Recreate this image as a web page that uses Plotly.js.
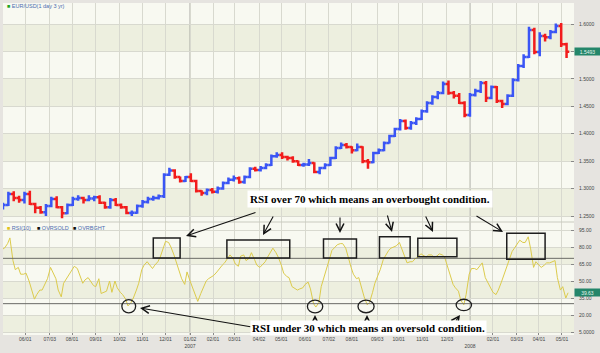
<!DOCTYPE html>
<html><head><meta charset="utf-8">
<script src="https://cdn.plot.ly/plotly-3.0.1.min.js"></script>
<style>html,body{margin:0;padding:0;background:#e6e4e0;}#chart{width:600px;height:353px;}</style>
</head><body><div id="chart"></div>
<script>
// ---- weekly EUR/USD bars (week centre dates) ----
const weekDates = ['2006-05-03','2006-05-10','2006-05-17','2006-05-24','2006-05-31','2006-06-07','2006-06-14','2006-06-21','2006-06-28','2006-07-05',
'2006-07-12','2006-07-19','2006-07-26','2006-08-02','2006-08-09','2006-08-16','2006-08-23','2006-08-30','2006-09-06','2006-09-13',
'2006-09-20','2006-09-27','2006-10-04','2006-10-11','2006-10-18','2006-10-25','2006-11-01','2006-11-08','2006-11-15','2006-11-22',
'2006-11-29','2006-12-06','2006-12-13','2006-12-20','2006-12-27','2007-01-03','2007-01-10','2007-01-17','2007-01-24','2007-01-31',
'2007-02-07','2007-02-14','2007-02-21','2007-02-28','2007-03-07','2007-03-14','2007-03-21','2007-03-28','2007-04-04','2007-04-11',
'2007-04-18','2007-04-25','2007-05-02','2007-05-09','2007-05-16','2007-05-23','2007-05-30','2007-06-06','2007-06-13','2007-06-20',
'2007-06-27','2007-07-04','2007-07-11','2007-07-18','2007-07-25','2007-08-01','2007-08-08','2007-08-15','2007-08-22','2007-08-29',
'2007-09-05','2007-09-12','2007-09-19','2007-09-26','2007-10-03','2007-10-10','2007-10-17','2007-10-24','2007-10-31','2007-11-07',
'2007-11-14','2007-11-21','2007-11-28','2007-12-05','2007-12-12','2007-12-19','2007-12-26','2008-01-02','2008-01-09','2008-01-16',
'2008-01-23','2008-01-30','2008-02-06','2008-02-13','2008-02-20','2008-02-27','2008-03-05','2008-03-12','2008-03-19','2008-03-26',
'2008-04-02','2008-04-09','2008-04-16','2008-04-23','2008-04-30','2008-05-07'];
const priceOpen = [1.265,1.270,1.290,1.283,1.279,1.290,1.272,1.265,1.257,1.268,
1.281,1.266,1.255,1.270,1.281,1.283,1.279,1.282,1.284,1.274,
1.266,1.279,1.270,1.266,1.2555,1.256,1.268,1.2755,1.281,1.283,
1.286,1.325,1.333,1.321,1.314,1.321,1.314,1.2956,1.292,1.2974,
1.294,1.300,1.310,1.316,1.319,1.312,1.321,1.336,1.334,1.3375,
1.343,1.359,1.361,1.3576,1.3557,1.350,1.343,1.344,1.3466,1.330,
1.3375,1.343,1.3557,1.374,1.3794,1.376,1.370,1.376,1.350,1.348,
1.365,1.370,1.383,1.396,1.4085,1.423,1.4104,1.4195,1.427,1.441,
1.456,1.467,1.474,1.4905,1.474,1.469,1.456,1.434,1.4705,1.478,
1.4925,1.465,1.485,1.4597,1.454,1.469,1.498,1.5235,1.540,1.589,
1.549,1.578,1.576,1.5855,1.5965,1.563];
const priceHigh = [1.274,1.294,1.295,1.287,1.294,1.296,1.274,1.268,1.272,1.285,
1.286,1.268,1.273,1.285,1.288,1.285,1.288,1.287,1.288,1.276,
1.283,1.283,1.273,1.268,1.260,1.271,1.279,1.285,1.287,1.289,
1.328,1.338,1.335,1.322,1.323,1.328,1.316,1.297,1.300,1.301,
1.304,1.313,1.320,1.324,1.322,1.324,1.339,1.340,1.341,1.346,
1.362,1.366,1.366,1.360,1.359,1.351,1.347,1.354,1.348,1.340,
1.346,1.358,1.377,1.384,1.383,1.377,1.382,1.377,1.354,1.367,
1.373,1.386,1.398,1.411,1.427,1.426,1.423,1.430,1.444,1.459,
1.470,1.478,1.495,1.497,1.478,1.474,1.459,1.474,1.482,1.496,
1.496,1.488,1.487,1.462,1.472,1.501,1.527,1.545,1.595,1.593,
1.585,1.582,1.589,1.601,1.602,1.566];
const priceLow = [1.262,1.268,1.277,1.274,1.273,1.270,1.255,1.254,1.250,1.266,
1.264,1.246,1.253,1.268,1.278,1.273,1.277,1.277,1.272,1.263,
1.263,1.268,1.263,1.253,1.250,1.254,1.265,1.273,1.278,1.280,
1.283,1.323,1.318,1.311,1.312,1.312,1.293,1.287,1.288,1.291,
1.291,1.298,1.308,1.313,1.309,1.309,1.319,1.331,1.331,1.335,
1.341,1.356,1.354,1.351,1.347,1.341,1.340,1.341,1.328,1.326,
1.335,1.341,1.354,1.372,1.373,1.364,1.368,1.346,1.336,1.346,
1.363,1.368,1.382,1.394,1.406,1.407,1.407,1.416,1.425,1.438,
1.453,1.463,1.472,1.471,1.464,1.454,1.430,1.431,1.468,1.474,
1.458,1.463,1.456,1.447,1.452,1.467,1.495,1.520,1.538,1.545,
1.541,1.568,1.572,1.583,1.558,1.538];
const priceClose = [1.270,1.290,1.283,1.279,1.290,1.272,1.265,1.257,1.268,1.281,
1.266,1.255,1.270,1.281,1.283,1.279,1.282,1.284,1.274,1.266,
1.279,1.270,1.266,1.2555,1.256,1.268,1.2755,1.281,1.283,1.286,
1.325,1.333,1.321,1.314,1.321,1.314,1.2956,1.292,1.2974,1.294,
1.300,1.310,1.316,1.319,1.312,1.321,1.336,1.334,1.3375,1.343,
1.359,1.361,1.3576,1.3557,1.350,1.343,1.344,1.3466,1.330,1.3375,
1.343,1.3557,1.374,1.3794,1.376,1.370,1.376,1.350,1.348,1.365,
1.370,1.383,1.396,1.4085,1.423,1.4104,1.4195,1.427,1.441,1.456,
1.467,1.474,1.4905,1.474,1.469,1.456,1.434,1.4705,1.478,1.4925,
1.465,1.485,1.4597,1.454,1.469,1.498,1.5235,1.540,1.589,1.549,
1.578,1.576,1.5855,1.5965,1.563,1.5493];

// ---- RSI(10) ----
const rsiDates = ['2006-05-02','2006-05-05','2006-05-09','2006-05-12','2006-05-16','2006-05-19','2006-05-23','2006-05-26','2006-05-30','2006-06-02',
'2006-06-06','2006-06-09','2006-06-13','2006-06-16','2006-06-20','2006-06-23','2006-06-27','2006-06-30','2006-07-04','2006-07-07',
'2006-07-11','2006-07-14','2006-07-18','2006-07-21','2006-07-25','2006-07-28','2006-08-01','2006-08-04','2006-08-08','2006-08-11',
'2006-08-15','2006-08-18','2006-08-22','2006-08-25','2006-08-29','2006-09-01','2006-09-05','2006-09-08','2006-09-12','2006-09-15',
'2006-09-19','2006-09-22','2006-09-26','2006-09-29','2006-10-03','2006-10-06','2006-10-10','2006-10-13','2006-10-17','2006-10-20',
'2006-10-24','2006-10-27','2006-10-31','2006-11-03','2006-11-07','2006-11-10','2006-11-14','2006-11-17','2006-11-21','2006-11-24',
'2006-11-28','2006-12-01','2006-12-05','2006-12-08','2006-12-12','2006-12-15','2006-12-19','2006-12-22','2006-12-26','2006-12-29',
'2007-01-02','2007-01-05','2007-01-09','2007-01-12','2007-01-16','2007-01-19','2007-01-23','2007-01-26','2007-01-30','2007-02-02',
'2007-02-06','2007-02-09','2007-02-13','2007-02-16','2007-02-20','2007-02-23','2007-02-27','2007-03-02','2007-03-06','2007-03-09',
'2007-03-13','2007-03-16','2007-03-20','2007-03-23','2007-03-27','2007-03-30','2007-04-03','2007-04-06','2007-04-10','2007-04-13',
'2007-04-17','2007-04-20','2007-04-24','2007-04-27','2007-05-01','2007-05-04','2007-05-08','2007-05-11','2007-05-15','2007-05-18',
'2007-05-22','2007-05-25','2007-05-29','2007-06-01','2007-06-05','2007-06-08','2007-06-12','2007-06-15','2007-06-19','2007-06-22',
'2007-06-26','2007-06-29','2007-07-03','2007-07-06','2007-07-10','2007-07-13','2007-07-17','2007-07-20','2007-07-24','2007-07-27',
'2007-07-31','2007-08-03','2007-08-07','2007-08-10','2007-08-14','2007-08-17','2007-08-21','2007-08-24','2007-08-28','2007-08-31',
'2007-09-04','2007-09-07','2007-09-11','2007-09-14','2007-09-18','2007-09-21','2007-09-25','2007-09-28','2007-10-02','2007-10-05',
'2007-10-09','2007-10-12','2007-10-16','2007-10-19','2007-10-23','2007-10-26','2007-10-30','2007-11-02','2007-11-06','2007-11-09',
'2007-11-13','2007-11-16','2007-11-20','2007-11-23','2007-11-27','2007-11-30','2007-12-04','2007-12-07','2007-12-11','2007-12-14',
'2007-12-18','2007-12-21','2007-12-25','2007-12-28',
'2008-01-01','2008-01-04','2008-01-08','2008-01-11','2008-01-15','2008-01-18','2008-01-22','2008-01-25','2008-01-29','2008-02-01',
'2008-02-05','2008-02-08','2008-02-12','2008-02-15','2008-02-19','2008-02-22','2008-02-26','2008-02-29','2008-03-04','2008-03-07',
'2008-03-11','2008-03-14','2008-03-18','2008-03-21','2008-03-25','2008-03-28','2008-04-01','2008-04-04','2008-04-08','2008-04-11',
'2008-04-15','2008-04-18','2008-04-22','2008-04-25','2008-04-29','2008-05-02','2008-05-06','2008-05-09'];
const rsiValues = [78,79,83,88,68,60,62,56,56,57,
50,42,34,38,42,42,48,52,62,58,
52,42,36,48,52,56,60,63,61,56,
48,51,53,50,46,45,52,39,40,41,
50,40,50,44,40,38,34,28,31,35,
42,48,60,64,67,64,61,64,67,71,
80,85,84,80,73,66,57,52,47,58,
50,45,37,32,39,44,50,52,54,55,
58,61,64,66,70,73,70,65,63,72,
73,68,70,75,69,64,62,64,67,71,
76,79,75,71,64,57,54,53,45,44,
42,43,44,47,49,43,30,27,31,45,
55,62,70,77,80,82,83,83,79,71,
62,56,52,53,43,36,29,31,40,48,
55,60,69,73,77,79,80,81,84,79,
71,66,67,67,70,71,74,73,71,73,
73,71,72,74,73,71,63,55,47,44,
41,33,29,38,
56,61,61,60,63,66,53,49,44,40,
38,42,49,55,63,70,76,79,83,86,
84,84,89,79,62,67,64,62,64,66,
66,67,68,53,42,45,35,39.63];
const OVERBOUGHT = 70, OVERSOLD = 30;
const lastPrice = 1.5493, lastRsi = 39.63;

// ---- axes ticks ----
const tickDates = ['2006-06-01','2006-07-03','2006-08-01','2006-09-01','2006-10-02','2006-11-01','2006-12-01','2007-01-02','2007-02-01','2007-03-01','2007-04-02','2007-05-01','2007-06-01','2007-07-02','2007-08-01','2007-09-03','2007-10-01','2007-11-01','2007-12-03','2008-01-02','2008-02-01','2008-03-03','2008-04-01','2008-05-01'];
const tickLabels = ['06/01','07/03','08/01','09/01','10/02','11/01','12/01','01/02<br>2007','02/01','03/01','04/02','05/01','06/01','07/02','08/01','09/03','10/01','11/01','12/03','<br>2008','02/01','03/03','04/01','05/01'];
const priceTicks = [1.25,1.30,1.35,1.40,1.45,1.50,1.55,1.60];
const rsiTicks = [5,20,35,50,65,80,95];
const rsiTickLabels = ['5.0000','20.00','35.00','50.00','65.00','80.00','95.00'];
const yearStarts = ['2007-01-02','2008-01-02'];

// annotation geometry (boxes / circles in axis units)
const obBoxes = [['2006-11-15','2006-12-20',70.2,88],['2007-02-19','2007-05-12',70.2,86.2],['2007-06-25','2007-08-07',70.2,87],
                 ['2007-09-06','2007-10-16',70.2,89],['2007-10-26','2007-12-16',71.4,87.7],['2008-02-19','2008-04-09',69.2,92.1]];
const osCircles = [['2006-10-05','2006-10-23',21.8,33.5],['2007-06-04','2007-06-24',21.8,33.2],['2007-08-09','2007-08-30',22,33.2],['2007-12-15','2008-01-04',23.8,33.9]];

const W=600,H=353,ML=3,MR=26,MT=3,MB=18;
const PW=W-ML-MR, PH=H-MT-MB;
const px=x=>(x-ML)/PW, py=y=>(H-MB-y)/PH;
const rsiFrac = 113/PH;

const traces = [
 {type:'ohlc', x:weekDates, open:priceOpen, high:priceHigh, low:priceLow, close:priceClose,
  xaxis:'x', yaxis:'y', tickwidth:0.5,
  increasing:{line:{color:'#3a55f5',width:2.5}},
  decreasing:{line:{color:'#f21c1c',width:2.5}}, hoverinfo:'skip'},
 {type:'scatter', mode:'lines', x:rsiDates, y:rsiValues, xaxis:'x', yaxis:'y2',
  line:{color:'#dccb4c', width:1}, hoverinfo:'skip'}
];

const shapes = [];
const band = '#edefdf';
[[1.55,1.60],[1.45,1.50],[1.35,1.40],[1.25,1.30]].forEach(b=>shapes.push({type:'rect',xref:'x domain',x0:0,x1:1,yref:'y',y0:b[0],y1:b[1],fillcolor:band,line:{width:0},layer:'below'}));
[[65,80],[35,50],[5,20]].forEach(b=>shapes.push({type:'rect',xref:'x domain',x0:0,x1:1,yref:'y2',y0:b[0],y1:b[1],fillcolor:band,line:{width:0},layer:'below'}));
yearStarts.forEach(d=>shapes.push({type:'line',xref:'x',x0:d,x1:d,yref:'paper',y0:0,y1:1,line:{color:'#9c9c96',width:1},layer:'below'}));
shapes.push({type:'line',xref:'paper',x0:0,x1:1,yref:'paper',y0:rsiFrac,y1:rsiFrac,line:{color:'#c9cabf',width:1}});
[OVERBOUGHT,OVERSOLD].forEach(v=>shapes.push({type:'line',xref:'x domain',x0:0,x1:1,yref:'y2',y0:v,y1:v,line:{color:'#6a6a66',width:1}}));
obBoxes.forEach(b=>shapes.push({type:'rect',xref:'x',x0:b[0],x1:b[1],yref:'y2',y0:b[2],y1:b[3],line:{color:'#1e1e1e',width:1.5}}));
osCircles.forEach(c=>shapes.push({type:'circle',xref:'x',x0:c[0],x1:c[1],yref:'y2',y0:c[2],y1:c[3],line:{color:'#1e1e1e',width:1.3}}));

const arrows = [[186,236,257,212],[263,235,274,215],[340,233,340,216],[392,232,387,214],[433,232,425,215],[503,232,475,215],
                [140,308,252,327],[315,315,315,321],[367,315,367,321],[460,315,455,322]];
const annotations = arrows.map(a=>({xref:'paper',yref:'paper',x:px(a[0]),y:py(a[1]),ax:a[2]-a[0],ay:a[3]-a[1],text:'',showarrow:true,
   arrowhead:5,arrowsize:1.4,arrowwidth:1.1,arrowcolor:'#111'}));
const capFont = {family:'Liberation Serif, Times New Roman, serif', size:11, color:'#000'};
annotations.push({xref:'paper',yref:'paper',x:px(370),y:py(199),xanchor:'center',yanchor:'middle',text:'<b>RSI over 70 which means an overbought condition.</b>',showarrow:false,font:capFont,bgcolor:'#ffffff',borderpad:2});
annotations.push({xref:'paper',yref:'paper',x:px(368),y:py(328),xanchor:'center',yanchor:'middle',text:'<b>RSI under 30 which means an oversold condition.</b>',showarrow:false,font:capFont,bgcolor:'#ffffff',borderpad:1});
const legFont = {family:'Liberation Sans, Arial, sans-serif', size:5.5, color:'#4a6cb0'};
annotations.push({xref:'paper',yref:'paper',x:px(5),y:py(6),xanchor:'left',yanchor:'middle',showarrow:false,font:legFont,
   text:'<span style="color:#1fa51f">■</span> EUR/USD(1 day 3 yr)'});
annotations.push({xref:'paper',yref:'paper',x:px(5),y:py(228),xanchor:'left',yanchor:'middle',showarrow:false,font:legFont,
   text:'<span style="color:#e0c21c">■</span> RSI(10)'});
annotations.push({xref:'paper',yref:'paper',x:px(35),y:py(228),xanchor:'left',yanchor:'middle',showarrow:false,font:legFont,
   text:'<span style="color:#111">■</span> OVRSOLD'});
annotations.push({xref:'paper',yref:'paper',x:px(71),y:py(228),xanchor:'left',yanchor:'middle',showarrow:false,font:legFont,
   text:'<span style="color:#111">■</span> OVRBGHT'});
const tagFont = {family:'Liberation Sans, Arial, sans-serif', size:5, color:'#e8f5ee'};
annotations.push({xref:'paper',yref:'y',x:1,y:lastPrice,xanchor:'left',yanchor:'middle',showarrow:false,text:lastPrice.toFixed(4),
   bgcolor:'#24866a',font:tagFont,width:24,height:6,borderpad:0.5});
annotations.push({xref:'paper',yref:'y2',x:1,y:lastRsi,xanchor:'left',yanchor:'middle',showarrow:false,text:lastRsi.toFixed(2),
   bgcolor:'#24866a',font:tagFont,width:24,height:6,borderpad:0.5});

const tickFont = {family:'Liberation Sans, Arial, sans-serif', size:5, color:'#444'};
const grid = '#d8d9cf';
const layout = {
  width:W, height:H, margin:{l:ML,r:MR,t:MT,b:MB,pad:0},
  paper_bgcolor:'#e6e4e0', plot_bgcolor:'#f8f9f1', showlegend:false, hovermode:false,
  xaxis:{type:'date', range:['2006-05-03','2008-05-16 17:00'], anchor:'y2', tickvals:tickDates, ticktext:tickLabels,
     showgrid:true, gridcolor:grid, gridwidth:1, ticks:'inside', ticklen:2, tickcolor:'#888', tickfont:tickFont,
     rangeslider:{visible:false}, showline:false, zeroline:false, fixedrange:true},
  yaxis:{domain:[rsiFrac,1], range:[1.23906,1.63828], side:'right', anchor:'x', tickvals:priceTicks, tickformat:'.4f',
     showgrid:true, gridcolor:grid, ticks:'inside', ticklen:3, tickcolor:'#888', tickfont:tickFont, ticklabelstandoff:4, zeroline:false},
  yaxis2:{domain:[0,rsiFrac], range:[2.35,102.06], side:'right', anchor:'x', tickvals:rsiTicks, ticktext:rsiTickLabels,
     showgrid:true, gridcolor:grid, ticks:'inside', ticklen:3, tickcolor:'#888', tickfont:tickFont, ticklabelstandoff:4, zeroline:false},
  shapes:shapes, annotations:annotations
};
Plotly.newPlot('chart', traces, layout, {staticPlot:true, displayModeBar:false});
</script></body></html>
